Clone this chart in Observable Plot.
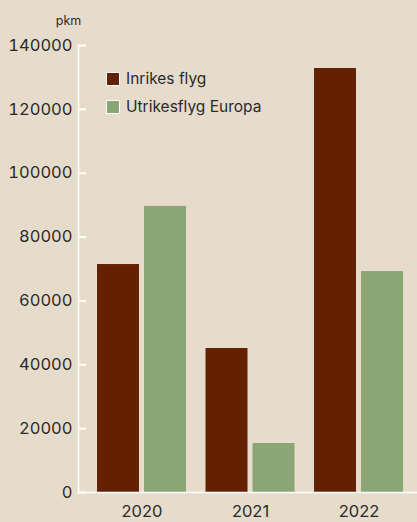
<!DOCTYPE html>
<html>
<head>
<meta charset="utf-8">
<script src="https://cdn.jsdelivr.net/npm/d3@7"></script>
<script src="https://cdn.jsdelivr.net/npm/@observablehq/plot@0.6"></script>
<style>
  html, body { margin: 0; padding: 0; background: #e7dccb; }
  body { width: 417px; height: 522px; overflow: hidden; position: relative; font-family: Inter, "Noto Sans", sans-serif; }
  #legend { position: absolute; left: 106px; top: 71px; font-size: 15.5px; color: #2a2a2a; }
  .item { display: flex; align-items: center; height: 15px; margin-bottom: 13px; }
  .sw { width: 12px; height: 12px; border: 1px solid #fff; margin-right: 6px; }
</style>
</head>
<body>
<div id="chart"></div>
<div id="legend"></div>
<script>
const years = ["2020", "2021", "2022"];
const inrikes = [71400, 45100, 132800];
const europa = [89600, 15350, 69200];
const seriesNames = ["Inrikes flyg", "Utrikesflyg Europa"];
const seriesColors = ["#632100", "#8aa674"];
const yTicks = [0, 20000, 40000, 60000, 80000, 100000, 120000, 140000];
const yLabel = "pkm";

const dataInrikes = years.map((y, i) => ({year: y, value: inrikes[i]}));
const dataEuropa = years.map((y, i) => ({year: y, value: europa[i]}));

const textColor = "#2a2a2a";

const chart = Plot.plot({
  width: 417,
  height: 522,
  marginLeft: 78,
  marginRight: 0,
  marginTop: 45,
  marginBottom: 30,
  style: {background: "#e7dccb", fontFamily: "Inter, 'Noto Sans', sans-serif", color: textColor, overflow: "visible"},
  x: {domain: years, paddingInner: 0.18, paddingOuter: 0.152, align: 0.576, round: false},
  y: {domain: [0, 140000]},
  marks: [
    Plot.barY(dataInrikes, {x: "year", y: "value", fill: seriesColors[0], insetRight: 47}),
    Plot.barY(dataEuropa, {x: "year", y: "value", fill: seriesColors[1], insetLeft: 47}),
    Plot.frame({anchor: "left", stroke: "#ffffff", strokeWidth: 1.5}),
    Plot.ruleY([0], {stroke: "#ffffff", strokeWidth: 1.5}),
    Plot.axisY({ticks: yTicks, tickSize: 8, dx: 8, tickFormat: () => "", stroke: "#ffffff", strokeWidth: 2, label: null}),
    Plot.axisY({ticks: yTicks, tickSize: 0, tickPadding: 6, tickFormat: d3.format("d"), fontSize: 16.5, fill: textColor, label: null}),
    Plot.axisX({tickSize: 0, tickPadding: 13, fontSize: 16.5, fill: textColor, label: null}),
    Plot.text([yLabel], {frameAnchor: "top-left", textAnchor: "middle", dx: -10, dy: -29, fontSize: 12.5, fill: textColor})
  ]
});
document.getElementById("chart").appendChild(chart);

const legend = document.getElementById("legend");
seriesNames.forEach((name, i) => {
  const item = document.createElement("div");
  item.className = "item";
  const sw = document.createElement("div");
  sw.className = "sw";
  sw.style.background = seriesColors[i];
  const label = document.createElement("span");
  label.textContent = name;
  item.appendChild(sw);
  item.appendChild(label);
  legend.appendChild(item);
});
</script>
</body>
</html>
